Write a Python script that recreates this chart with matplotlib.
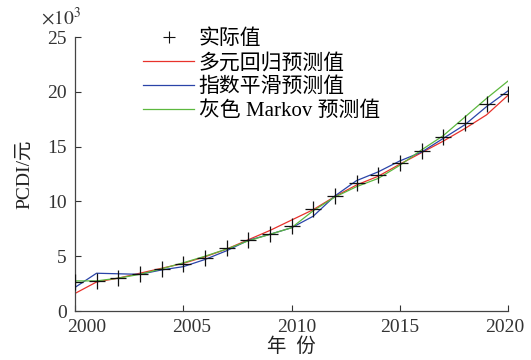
import matplotlib
matplotlib.use('Agg')
import matplotlib.pyplot as plt
import matplotlib.transforms as mtransforms
from matplotlib.lines import Line2D

plt.rcParams['font.family'] = ['Liberation Serif', 'Noto Sans CJK SC']
plt.rcParams['mathtext.fontset'] = 'stix'

# data (x10^3 yuan)
years = list(range(2000, 2021))
actual = [2.65, 2.75, 3.05, 3.4, 3.8, 4.25, 4.85, 5.75, 6.5, 7.0, 7.75,
          9.35, 10.5, 11.65, 12.45, 13.5, 14.6, 15.85, 17.2, 18.85, 19.85]
regress = [1.6, 2.65, 3.0, 3.45, 3.9, 4.35, 4.95, 5.65, 6.5, 7.35, 8.3,
           9.25, 10.45, 11.5, 12.3, 13.4, 14.45, 15.5, 16.65, 17.9, 19.7]
smooth = [2.15, 3.45, 3.4, 3.35, 3.75, 4.05, 4.7, 5.5, 6.45, 7.0, 7.6,
          8.65, 10.5, 11.9, 12.7, 13.7, 14.5, 15.75, 17.0, 18.65, 20.1]
markov = [2.75, 2.75, 3.0, 3.35, 3.85, 4.4, 5.0, 5.65, 6.4, 7.0, 7.6,
          9.15, 10.4, 11.35, 12.1, 13.3, 14.7, 16.0, 17.7, 19.4, 21.0]
labels = ['实际值', '多元回归预测值', '指数平滑预测值', '灰色 Markov 预测值']

fig = plt.figure(figsize=(5.31, 3.6), dpi=100, facecolor='white')
ax = fig.add_axes([0.141, 0.136, 0.816, 0.761])

ax.plot(years, actual, linestyle='none', marker='+', color='#111111',
        markersize=11, markeredgewidth=0.9, zorder=5)
ax.plot(years, regress, color='#e8322b', lw=0.9)
ax.plot(years, smooth, color='#2a44a8', lw=0.9)
ax.plot(years, markov, color='#5cb83e', lw=0.9)

ax.set_xlim(2000, 2020)
ax.set_ylim(0, 25)
ax.set_xticks([2000, 2005, 2010, 2015, 2020])
ax.set_yticks([0, 5, 10, 15, 20, 25])
ax.tick_params(direction='in', length=4, width=0.8, labelsize=14,
               colors='#333333', pad=6)
for s in ['top', 'right']:
    ax.spines[s].set_visible(False)
for s in ['left', 'bottom']:
    ax.spines[s].set_color('#444444')
    ax.spines[s].set_linewidth(0.9)

# x tick labels are nudged off their ticks in the original (pixels)
nudges = [12, 8, 5, 0, -3]
for lab, dx in zip(ax.get_xticklabels(), nudges):
    shift = mtransforms.ScaledTranslation(dx / 100, 0, fig.dpi_scale_trans)
    lab.set_transform(lab.get_transform() + shift)

ax.set_xlabel('年  份', fontsize=14, labelpad=1, color='#222222')
ax.set_ylabel('PCDI/元', fontsize=14, labelpad=10, color='#222222')
fig.text(0.078, 0.95, r'$\times10^3$', fontsize=14, color='#333333',
         ha='left', va='center')

handles = [
    Line2D([], [], linestyle='none', marker='+', color='#111111',
           markersize=8, markeredgewidth=0.8),
    Line2D([], [], color='#e8322b', lw=0.9),
    Line2D([], [], color='#2a44a8', lw=0.9),
    Line2D([], [], color='#5cb83e', lw=0.9),
]
ax.legend(handles, labels, loc='upper left', bbox_to_anchor=(0.134, 1.065),
          frameon=False, fontsize=15, handlelength=2.45, handletextpad=0.2,
          labelspacing=0.2, borderpad=0)

fig.savefig('out.png', dpi=100, facecolor='white')
